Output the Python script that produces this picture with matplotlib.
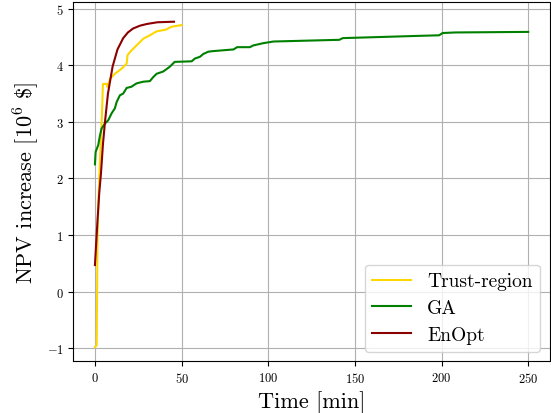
import matplotlib
matplotlib.use("Agg")
import matplotlib.pyplot as plt

plt.rcParams['font.family'] = 'serif'
plt.rcParams['font.serif'] = ['cmr10', 'DejaVu Serif']
plt.rcParams['mathtext.fontset'] = 'cm'
plt.rcParams['axes.formatter.use_mathtext'] = True
plt.rcParams['axes.unicode_minus'] = True

tr_t = [0, 1.0, 1.5, 2.0, 3.0, 4.0, 4.6, 6.8, 7.2, 8.7, 11.5, 15.4, 18.3, 18.8, 21, 24, 27.9, 31.7, 35.6, 41, 44, 50]
tr_v = [-0.98, -0.95, 1.0, 1.6, 2.4, 3.1, 3.67, 3.67, 3.62, 3.76, 3.85, 3.94, 4.03, 4.18, 4.26, 4.35, 4.47, 4.53, 4.60, 4.63, 4.68, 4.71]

ga_t = [0, 0.4, 1.9, 2.9, 3.8, 5.8, 7.7, 9.6, 11.5, 12.5, 14.4, 16.3, 18.3, 21, 24, 27.9, 31.7, 33.6, 35.6, 39.4, 43, 46, 55.8, 57.7, 60.6, 62.5, 65.4, 68, 72, 80, 82, 89.4, 91.3, 97, 103, 141, 143, 187, 198.6, 200.6, 208, 250]
ga_v = [2.25, 2.47, 2.59, 2.76, 2.88, 2.97, 3.03, 3.15, 3.24, 3.35, 3.47, 3.50, 3.60, 3.62, 3.68, 3.71, 3.72, 3.79, 3.85, 3.89, 3.97, 4.06, 4.07, 4.12, 4.15, 4.20, 4.24, 4.25, 4.26, 4.28, 4.32, 4.32, 4.35, 4.39, 4.42, 4.45, 4.48, 4.52, 4.53, 4.57, 4.58, 4.59]

en_t = [0, 0.8, 1.5, 2.5, 3.5, 4.6, 5.8, 7.5, 10.2, 13, 16.3, 19, 22, 26, 30, 36, 45.6]
en_v = [0.47, 0.9, 1.27, 1.75, 2.1, 2.6, 3.0, 3.5, 3.98, 4.28, 4.48, 4.58, 4.65, 4.70, 4.73, 4.76, 4.77]

fig = plt.figure(figsize=(5.51, 4.14), dpi=100)
ax = fig.add_axes([0.133, 0.125, 0.865, 0.868])
ax.plot(tr_t, tr_v, color='#FFD700', lw=1.5, label='Trust-region')
ax.plot(ga_t, ga_v, color='green', lw=1.5, label='GA')
ax.plot(en_t, en_v, color='#8B0000', lw=1.5, label='EnOpt')
ax.set_xlim(-12.5, 262.5)
ax.set_ylim(-1.23, 5.12)
ax.set_xticks([0, 50, 100, 150, 200, 250])
ax.set_yticks([-1, 0, 1, 2, 3, 4, 5])
ax.tick_params(labelsize=9)
ax.grid(True, color='#b0b0b0', lw=0.8)
ax.set_xlabel('Time [min]', fontsize=16)
ax.set_ylabel(r'NPV increase [$10^6$ \$]', fontsize=16)
ax.legend(loc='lower right', fontsize=14, labelspacing=0.45)
fig.savefig('out.png', dpi=100)
